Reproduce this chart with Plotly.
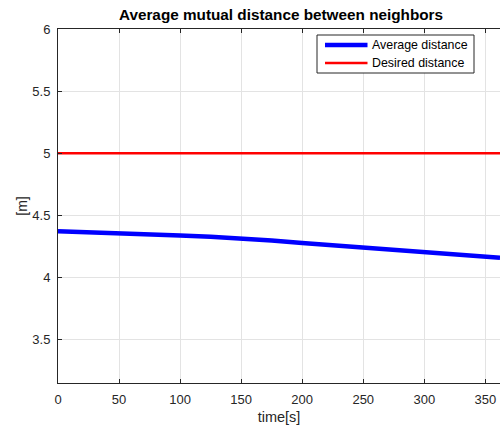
import plotly.graph_objects as go

# Time samples [s] and the average distance measured between neighbors [m]
time_s = [0, 25, 50, 75, 100, 125, 150, 175, 200, 225, 250, 275, 300, 325, 350, 362]
avg_distance = [4.372, 4.365, 4.358, 4.348, 4.338, 4.327, 4.314, 4.297, 4.278, 4.259,
                4.241, 4.225, 4.209, 4.190, 4.171, 4.158]
desired_distance = 5.0

x_ticks = [0, 50, 100, 150, 200, 250, 300, 350]
y_ticks = [3.5, 4, 4.5, 5, 5.5, 6]

series_names = ["Average distance", "Desired distance"]
series_colors = ["#0000ff", "#ff0000"]
series_widths = [4.5, 2.5]

font_family = "Liberation Sans, Arial, Helvetica, sans-serif"
axis_color = "#262626"

W, H = 500, 430
M_L, M_R, M_T, M_B = 58, 0, 29, 47
PW, PH = W - M_L - M_R, H - M_T - M_B


def px_x(px):
    """Page pixel column -> paper x."""
    return (px - M_L) / PW


def px_y(py):
    """Page pixel row -> paper y."""
    return (H - M_B - py) / PH


fig = go.Figure()
fig.add_trace(go.Scatter(
    x=time_s, y=avg_distance, mode="lines", name=series_names[0],
    line=dict(color=series_colors[0], width=series_widths[0]),
))
fig.add_trace(go.Scatter(
    x=[time_s[0], time_s[-1]], y=[desired_distance, desired_distance],
    mode="lines", name=series_names[1],
    line=dict(color=series_colors[1], width=series_widths[1]),
))

# Boxed legend in the upper right of the axes
shapes = [dict(
    type="rect", xref="paper", yref="paper",
    x0=px_x(317), x1=px_x(474), y0=px_y(73), y1=px_y(35),
    line=dict(color=axis_color, width=1), fillcolor="white", layer="above",
)]
annotations = []
for i, (name, color, width) in enumerate(zip(series_names, series_colors, series_widths)):
    row_y = 45 + 18 * i
    shapes.append(dict(
        type="line", xref="paper", yref="paper",
        x0=px_x(325), x1=px_x(367.5), y0=px_y(row_y), y1=px_y(row_y),
        line=dict(color=color, width=width), layer="above",
    ))
    annotations.append(dict(
        xref="paper", yref="paper", x=px_x(370), y=px_y(row_y),
        xanchor="left", yanchor="middle", showarrow=False,
        text=name, font=dict(size=12.4, color="#000000"),
    ))

fig.update_layout(
    width=W, height=H,
    margin=dict(l=M_L, r=M_R, t=M_T, b=M_B),
    paper_bgcolor="white", plot_bgcolor="white",
    font=dict(family=font_family, size=13, color=axis_color),
    title=dict(
        text="<b>Average mutual distance between neighbors</b>",
        x=281 / W, xanchor="center",
        y=1 - 15 / H, yanchor="middle",
        font=dict(size=15.3, color="#000000"),
    ),
    showlegend=False,
    shapes=shapes,
    annotations=annotations,
)

fig.update_xaxes(
    range=[0, 362], tickvals=x_ticks,
    showgrid=True, gridcolor="#e3e3e3", gridwidth=1,
    showline=True, linecolor=axis_color, linewidth=1, mirror="ticks",
    ticks="inside", ticklen=4, tickcolor=axis_color,
    ticklabelstandoff=4,
    zeroline=False,
    title=dict(text="time[s]", standoff=6, font=dict(size=14.5)),
)
fig.update_yaxes(
    range=[3.15, 6], tickvals=y_ticks,
    showgrid=True, gridcolor="#e3e3e3", gridwidth=1,
    showline=True, linecolor=axis_color, linewidth=1,
    ticks="inside", ticklen=4, tickcolor=axis_color,
    ticklabelstandoff=4,
    zeroline=False,
    title=dict(text="[m]", standoff=1, font=dict(size=14)),
)

fig.write_html("out.html")
